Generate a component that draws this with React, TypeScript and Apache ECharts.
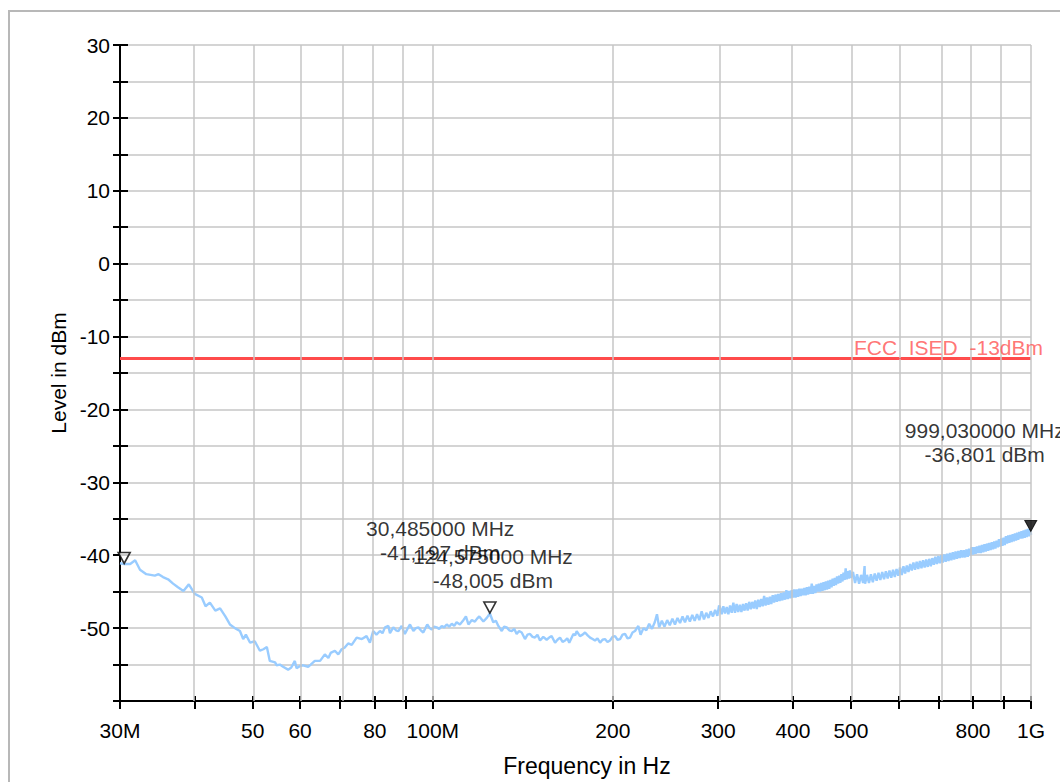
import React, { useEffect, useRef } from "react";
import * as echarts from "echarts";

// ---- axis data ----
const xTickMHz = [30, 40, 50, 60, 70, 80, 90, 100, 200, 300, 400, 500, 600, 700, 800, 900, 1000];
const xLabelMHz = [30, 50, 60, 80, 100, 200, 300, 400, 500, 800, 1000];
const xLabelSpecial: Record<number, string> = { 30: "30M", 100: "100M", 1000: "1G" };
const yMin = -60;
const yMax = 30;
const yStep = 5;

// ---- limit ----
const limitLevel = -13;
const limitName = "FCC_ISED_-13dBm";

// ---- markers ----
const markerFreqMHz = [30.485, 124.575, 999.03];
const markerLevel = [-41.197, -48.005, -36.801];
const markerFilled = [false, false, true];

// ---- trace [MHz, dBm] ----
const traceLow: [number, number][] = [
  [30.0, -41.1], [30.485, -41.2], [31.2, -41.2], [31.8, -40.7], [32.4, -42.0], [33.2, -42.6], [34.3, -42.8],
  [34.8, -42.6], [35.4, -43.0], [36.1, -43.3], [36.8, -43.9], [37.5, -44.4], [38.3, -44.9], [39.1, -44.0],
  [40.0, -45.3], [41.1, -45.8], [41.7, -47.0], [42.4, -46.5], [43.3, -47.6], [44.1, -47.3], [45.0, -48.4],
  [45.8, -49.5], [46.7, -50.0], [47.6, -50.4], [48.2, -51.5], [48.7, -50.9], [49.5, -52.0], [50.4, -51.8],
  [51.4, -53.1], [52.1, -52.9], [52.8, -52.6], [53.4, -54.5], [54.5, -54.7], [54.8, -55.1], [55.5, -55.0],
  [56.2, -55.3], [57.3, -55.7], [58.0, -55.4], [58.8, -54.5], [59.2, -55.5], [60.0, -55.2], [60.7, -55.1],
  [61.9, -55.3], [62.5, -55.0], [63.5, -54.5], [64.8, -54.5], [66.0, -53.6], [66.9, -54.1], [67.5, -53.4],
  [68.6, -53.1], [69.5, -53.6], [70.4, -52.9], [71.2, -52.7], [72.2, -52.1], [73.2, -52.3], [74.6, -51.3],
];

const traceMid: [number, number][] = [
  [76.1, -51.5], [77.5, -51.1], [78.5, -52.0], [79.5, -50.4], [80.5, -50.9], [81.6, -50.4], [82.4, -50.7],
  [83.2, -49.9], [84.3, -49.7], [84.8, -50.7], [85.9, -49.9], [86.8, -50.3], [87.6, -50.4], [88.7, -49.7],
  [89.8, -50.8], [90.7, -50.1], [91.6, -49.5], [92.8, -50.4], [93.7, -50.0], [94.6, -49.9], [95.5, -50.3],
  [96.4, -50.6], [97.2, -50.0], [97.9, -49.5], [98.8, -50.0], [99.6, -50.2], [100.5, -49.8], [101.5, -49.9],
  [102.5, -50.1], [103.5, -49.7], [104.5, -49.9], [105.5, -49.5], [106.5, -49.8], [107.6, -49.4], [108.6, -49.7],
  [109.6, -49.2], [111.0, -49.5], [112.3, -49.0], [113.6, -48.4], [114.7, -49.5], [116.2, -48.9], [117.6, -49.1],
  [118.6, -48.7], [119.6, -48.4], [121.5, -49.1], [123.1, -48.6], [124.575, -48.0], [126.2, -49.2], [127.5, -49.0],
  [128.7, -49.7], [130.4, -50.4], [131.6, -49.8], [132.9, -49.9], [134.2, -50.3], [135.5, -50.4], [136.8, -50.1],
  [138.1, -50.8], [139.4, -50.4], [140.8, -50.6], [142.6, -51.5], [144.0, -50.9], [145.4, -50.8], [146.8, -51.2],
  [148.2, -51.3], [149.6, -50.9], [151.1, -51.7], [153.0, -51.2], [155.0, -51.6], [156.5, -51.3], [158.0, -51.1],
  [160.1, -52.0], [161.6, -51.6], [163.2, -51.3], [164.8, -51.9], [166.4, -51.7], [167.8, -51.4], [169.1, -52.0],
  [171.8, -50.8], [173.0, -51.0], [174.0, -50.4], [176.2, -51.1], [178.0, -50.9], [179.7, -50.6], [181.5, -51.0],
  [183.2, -51.3], [185.0, -51.5], [186.7, -51.7], [188.5, -51.4], [190.4, -52.0], [192.2, -51.6], [194.0, -51.5],
  [195.9, -51.9], [197.8, -51.7], [199.7, -51.2], [201.7, -51.1], [203.6, -51.6], [205.6, -51.5], [207.6, -50.9],
  [209.6, -50.8], [211.6, -51.4], [213.7, -51.3], [215.7, -50.6], [217.8, -50.4], [220.6, -49.7],
];

const traceHighA: [number, number][] = [
  [222.5, -50.9], [225, -50.0], [227.5, -50.3], [230, -49.4], [232.5, -50.1], [235, -49.2], [237, -48.1],
  [239, -49.9], [241.5, -49.0], [244, -49.8], [246.5, -48.9], [249, -49.6], [251.5, -48.7], [254, -49.5],
  [256.5, -48.6], [259, -49.3], [261.5, -48.4], [264, -49.2], [266.5, -48.3], [269, -49.1], [271.5, -48.2],
  [274, -49.0], [276.5, -48.1], [279, -48.9], [281.5, -47.7], [284, -48.8], [286.5, -47.9], [289, -48.6],
  [291.5, -47.7], [294, -48.4], [296.5, -47.5], [299, -48.3], [301, -46.9],
];

const traceHighB: [number, number][] = [
  [302, -47.1], [304, -48.1], [306, -47.0], [308, -48.0], [310, -47.1], [312, -48.1], [314, -46.9],
  [316, -47.9], [318, -46.5], [320, -47.9], [322, -46.7], [324, -47.8], [326, -46.8], [328, -47.8],
  [330, -46.7], [332, -47.6], [334, -46.6], [336, -47.6], [338, -46.4], [340, -47.4], [342, -46.4],
  [344, -47.3], [346, -46.2], [348, -47.4], [350, -46.1], [352, -47.1], [354, -46.0], [356, -47.0],
  [358, -45.6], [360, -46.9], [362, -45.8], [364, -46.8], [366, -45.7], [368, -46.7], [370, -45.5],
  [372, -46.5], [374, -45.4], [376, -46.4], [378, -45.3], [380, -46.3], [382, -45.2], [384, -46.2],
  [386, -45.1], [388, -46.1], [390, -44.8], [392, -46.0], [394, -44.9], [396, -45.9], [398, -44.8],
  [400, -45.8], [402, -44.7], [404, -45.8], [406, -44.7], [408, -45.7], [410, -44.6], [412, -45.6],
  [414, -44.6], [416, -45.5], [418, -44.5], [420, -45.5], [422, -44.4], [424, -45.4], [426, -44.3],
  [428, -45.3], [430, -43.9], [432, -45.3], [434, -44.2], [436, -45.2], [438, -44.0], [440, -45.0],
  [442, -43.9], [444, -45.0], [446, -43.8], [448, -44.9], [450, -43.7], [452, -44.8], [454, -43.6],
  [456, -44.7], [458, -43.5], [460, -44.6], [462, -43.4], [464, -44.4], [466, -43.2], [468, -44.2],
  [470, -43.1], [472, -44.1], [474, -42.9], [476, -43.9], [478, -42.8], [480, -43.8], [482, -42.6],
  [484, -43.6], [486, -42.4], [488, -43.4], [490, -41.8], [492, -43.3], [494, -42.2], [496, -43.2],
  [498, -42.1], [500, -43.1],
];

const traceHighC: [number, number][] = [
  [504, -42.3], [508, -43.8], [512, -42.6], [516, -43.9], [520, -42.7], [524, -43.8], [527, -41.5],
  [528, -43.9], [532, -42.7], [536, -43.8], [540, -42.6], [544, -43.7], [548, -42.5], [552, -43.5],
  [556, -42.4], [560, -43.4], [564, -42.3], [568, -43.3], [572, -42.2], [576, -43.2], [580, -42.1],
  [584, -43.1], [588, -42.0], [592, -43.0], [596, -41.9], [600, -42.8], [604, -41.7], [608, -42.7],
  [612, -41.5], [616, -42.5], [620, -41.4], [624, -42.3], [628, -41.2], [632, -42.1], [636, -41.0],
  [640, -42.0], [644, -40.9], [648, -41.9], [652, -40.8], [656, -41.8], [660, -40.7], [664, -41.7],
  [668, -40.6], [672, -41.6], [676, -40.5], [680, -41.5], [684, -40.4], [688, -41.3], [692, -40.2],
  [696, -41.2], [700, -40.1], [704, -41.1], [708, -40.0], [712, -41.0], [716, -39.9], [720, -40.9],
  [724, -39.8], [728, -40.8], [732, -39.7], [736, -40.7], [740, -39.6], [744, -40.6], [748, -39.5],
  [752, -40.5], [756, -39.4], [760, -40.4], [764, -39.3], [768, -40.3], [772, -39.3], [776, -40.3],
  [780, -39.2], [784, -40.2], [788, -39.1], [792, -40.0], [796, -38.9], [800, -39.9], [804, -38.9],
  [808, -39.8], [812, -38.8], [816, -39.7], [820, -38.7], [824, -39.7], [828, -38.6], [832, -39.6],
  [836, -38.5], [840, -39.5], [844, -38.4], [848, -39.4], [852, -38.3], [856, -39.3], [860, -38.2],
  [864, -39.2], [868, -38.1], [872, -39.1], [876, -38.0], [880, -38.9], [884, -37.8], [888, -38.8],
  [892, -37.7], [896, -38.7], [900, -37.6], [904, -38.6], [908, -37.4], [912, -38.4], [916, -37.3],
  [920, -38.3], [924, -37.2], [928, -38.2], [932, -37.1], [936, -38.1], [940, -37.0], [944, -38.0],
  [948, -36.9], [952, -37.9], [956, -36.8], [960, -37.7], [964, -36.7], [968, -37.7], [972, -36.6],
  [976, -37.6], [980, -36.5], [984, -37.5], [988, -36.4], [992, -37.4], [996, -36.4], [999.03, -36.8],
  [1000, -37.2],
];

// ---- styles ----
const FONT = 'Arial, "Liberation Sans", Helvetica, sans-serif';
const GRID_COLOR = "#c6c6c6";
const TRACE_COLOR = "#99ccff";
const LIMIT_COLOR = "#ff4b4b";
const LIMIT_TEXT_COLOR = "#ff5252";
const markerLabelOffset: [number, number][] = [[316, -23], [3, -45], [-46, -89]];

const lx = (f: number) => Math.log10(f);
const fmtNum = (v: number, d: number) => v.toFixed(d).replace(".", ",");

export default function App() {
  const ref = useRef<HTMLDivElement>(null);

  useEffect(() => {
    if (!ref.current) return;
    const chart = echarts.init(ref.current, undefined, { renderer: "svg" });
    const xMin = lx(xTickMHz[0]);
    const xMax = lx(xTickMHz[xTickMHz.length - 1]);
    const tickVals = xTickMHz.map(lx);
    const labelVals = xLabelMHz.map(lx);
    const trace = [...traceLow, ...traceMid, ...traceHighA, ...traceHighB, ...traceHighC].map(([f, v]) => [lx(f), v]);

    const xFormatter = (v: number) => {
      const f = Math.round(Math.pow(10, v));
      return xLabelSpecial[f] ?? String(f);
    };

    const option: any = {
      animation: false,
      backgroundColor: "#ffffff",
      textStyle: { fontFamily: FONT },
      graphic: [
        {
          type: "rect",
          silent: true,
          z: -10,
          shape: { x: 9, y: 11, width: 1200, height: 1000 },
          style: { fill: "none", stroke: "#b8b8b8", lineWidth: 2 },
        },
      ],
      grid: { left: 120, top: 45, right: 29, bottom: 75 },
      xAxis: [
        {
          type: "value",
          position: "bottom",
          min: xMin,
          max: xMax,
          name: "Frequency in Hz",
          nameLocation: "middle",
          nameGap: 53,
          nameTextStyle: { fontSize: 23, color: "#000", fontFamily: FONT, padding: [0, 0, 0, 23] },
          axisLine: { show: true, onZero: false, lineStyle: { color: "#000", width: 2 } },
          axisTick: { show: true, inside: false, length: 8, lineStyle: { color: "#000", width: 2 }, customValues: tickVals },
          axisLabel: { show: true, customValues: labelVals, formatter: xFormatter, fontSize: 21, color: "#000", margin: 19, fontFamily: FONT },
          splitLine: { show: false },
        },
        {
          type: "value",
          position: "bottom",
          min: xMin,
          max: xMax,
          axisLine: { show: false, onZero: false },
          axisTick: { show: true, inside: true, length: 5, lineStyle: { color: "#000", width: 2 }, customValues: tickVals },
          axisLabel: { show: false },
          splitLine: { show: false },
        },
      ],
      yAxis: [
        {
          type: "value",
          position: "left",
          min: yMin,
          max: yMax,
          interval: yStep,
          name: "Level in dBm",
          nameLocation: "middle",
          nameGap: 46,
          nameRotate: 90,
          nameTextStyle: { fontSize: 21, color: "#000", fontFamily: FONT },
          axisLine: { show: true, onZero: false, lineStyle: { color: "#000", width: 2 } },
          axisTick: { show: true, inside: false, length: 7, lineStyle: { color: "#000", width: 2 } },
          axisLabel: {
            show: true,
            fontSize: 21,
            color: "#000",
            margin: 10,
            fontFamily: FONT,
            formatter: (v: number) => (v % 10 === 0 && v > yMin ? String(v) : ""),
          },
          splitLine: { show: true, lineStyle: { color: GRID_COLOR, width: 1.5 } },
        },
        {
          type: "value",
          position: "left",
          min: yMin,
          max: yMax,
          interval: yStep,
          axisLine: { show: false, onZero: false },
          axisTick: { show: true, inside: true, length: 8, lineStyle: { color: "#000", width: 2 } },
          axisLabel: { show: false },
          splitLine: { show: false },
        },
      ],
      series: [
        {
          name: "vgrid",
          type: "line",
          z: 1,
          silent: true,
          symbol: "none",
          lineStyle: { opacity: 0 },
          data: [[xMin, yMin]],
          markLine: {
            silent: true,
            symbol: ["none", "none"],
            label: { show: false },
            lineStyle: { color: GRID_COLOR, width: 1.5, type: "solid" },
            data: xTickMHz.filter((f) => f > xTickMHz[0]).map((f) => ({ xAxis: lx(f) })),
          },
        },
        {
          name: "limit",
          type: "line",
          z: 3,
          symbol: "none",
          lineStyle: { color: LIMIT_COLOR, width: 3 },
          data: [[xMin, limitLevel], [xMax, limitLevel]],
        },
        {
          name: "trace",
          type: "line",
          z: 4,
          symbol: "none",
          lineStyle: { color: TRACE_COLOR, width: 2.4 },
          data: trace,
        },
        {
          name: "markers",
          type: "scatter",
          z: 6,
          symbol: "triangle",
          symbolRotate: 180,
          symbolSize: [12, 11],
          symbolOffset: [0, -6],
          data: markerFreqMHz.map((f, i) => ({
            value: [lx(f), markerLevel[i]],
            itemStyle: markerFilled[i]
              ? { color: "#000", borderColor: "#000", borderWidth: 1 }
              : { color: "#fff", borderColor: "#000", borderWidth: 1.6 },
          })),
        },
        {
          name: "labels",
          type: "scatter",
          z: 7,
          symbolSize: 1,
          itemStyle: { color: "transparent" },
          data: [
            ...markerFreqMHz.map((f, i) => ({
              value: [lx(f), markerLevel[i]],
              label: {
                show: true,
                position: "inside",
                formatter: `${fmtNum(f, 6)} MHz\n${fmtNum(markerLevel[i], 3)} dBm`,
                offset: markerLabelOffset[i],
                fontSize: 21,
                lineHeight: 24,
                color: "#000",
                align: "center",
                verticalAlign: "middle",
                fontFamily: FONT,
              },
            })),
            {
              value: [xMax, limitLevel],
              label: {
                show: true,
                position: "inside",
                formatter: limitName,
                offset: [12, 0],
                fontSize: 21,
                color: LIMIT_TEXT_COLOR,
                align: "right",
                verticalAlign: "bottom",
                fontFamily: FONT,
              },
            },
          ],
        },
      ],
    };
    chart.setOption(option);
    return () => chart.dispose();
  }, []);

  return (
    <div
      ref={ref}
      style={{ position: "fixed", left: 0, top: 0, width: 1060, height: 782, background: "#fff" }}
    />
  );
}
